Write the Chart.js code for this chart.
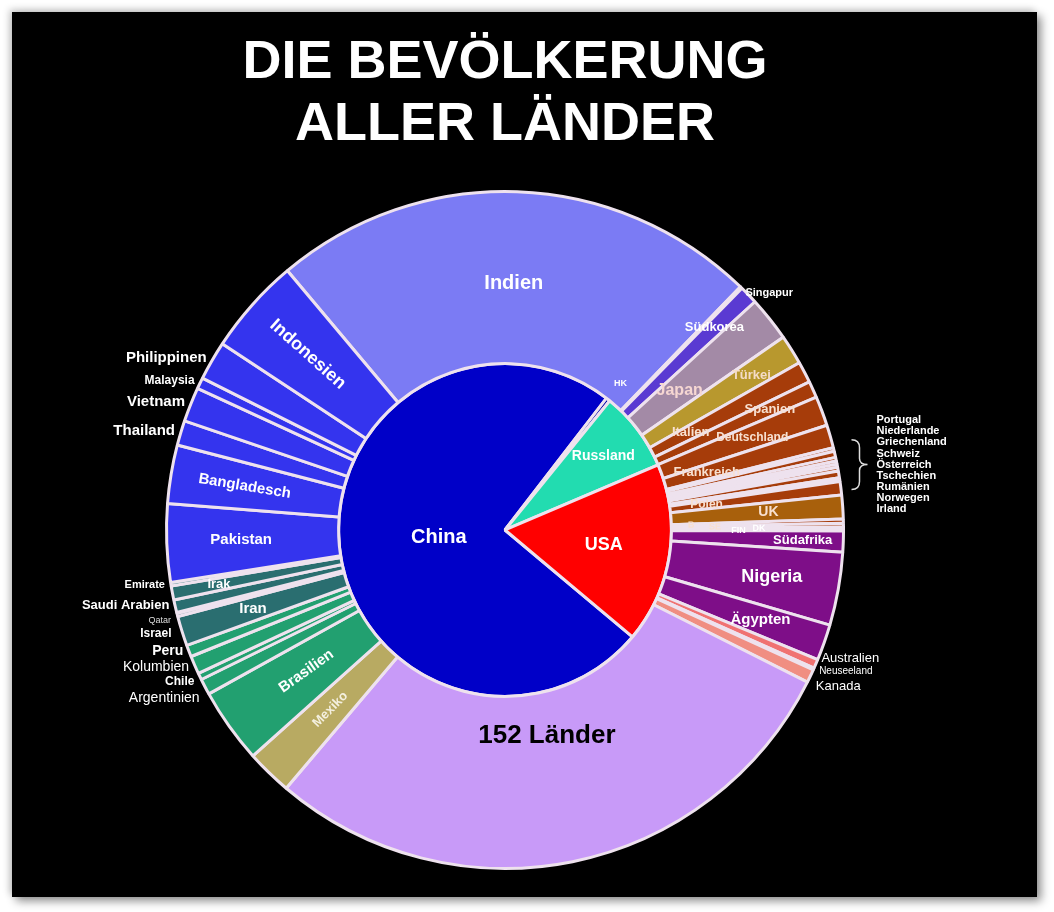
<!DOCTYPE html>
<html lang="de">
<head>
<meta charset="utf-8">
<title>Die Bevölkerung aller Länder</title>
<script src="https://cdn.jsdelivr.net/npm/chart.js@4.4.1/dist/chart.umd.min.js"></script>
<style>
    html, body { margin: 0; padding: 0; background: #fff; }
    #rahmen {
        position: absolute; left: 12px; top: 12px; width: 1025px; height: 885px; background: #000;
        box-shadow: 4px 4px 9px rgba(0,0,0,0.45), -3px -3px 7px rgba(0,0,0,0.18);
    }
    canvas { display: block; }
</style>
</head>
<body>
<div id="rahmen"><canvas id="bevoelkerungChart" width="1025" height="885"></canvas></div>
<script>
// Außenring: Länder am Kreisrand, im Uhrzeigersinn ab Indien (Einwohner in Mio.)
const aussenLaender = ['Indien', 'Singapur', 'Südkorea', 'Japan', 'Türkei', 'Italien', 'Spanien', 'Deutschland', 'Frankreich',
    'Portugal', 'Niederlande', 'Griechenland', 'Schweiz', 'Österreich', 'Tschechien', 'Rumänien', 'Norwegen', 'Irland',
    'Polen', 'UK', 'B', 'SE', 'DK', 'FIN', 'Südafrika', 'Nigeria', 'Ägypten', 'Australien', 'Neuseeland', 'Kanada',
    '152 Länder', 'Mexiko', 'Brasilien', 'Argentinien', 'Chile', 'Kolumbien', 'Peru', 'Iran', 'Israel', 'Qatar',
    'Saudi Arabien', 'Irak', 'Emirate', 'Pakistan', 'Bangladesch', 'Thailand', 'Vietnam', 'Malaysia', 'Philippinen', 'Indonesien'];
const aussenWerte = [1380, 5.9, 52, 126, 84, 60, 47, 83, 65,
    10.3, 17.4, 10.4, 8.7, 9, 10.7, 19, 5.4, 4.9,
    38, 67, 11.5, 10.3, 5.8, 5.5, 59, 206, 102, 25.5, 5, 38,
    1700, 129, 212, 45, 19, 51, 33, 84, 9.2, 2.9,
    35, 40, 9.9, 220, 165, 70, 97, 32, 110, 273];

// Innenkreis: China, HK, Russland, USA
const innenLaender = ['China', 'HK', 'Russland', 'USA'];
const innenWerte = [1400, 7.5, 146, 330];

// Kleine Länder, die nur über die Klammer beschriftet werden
const kleineLaender = ['Portugal', 'Niederlande', 'Griechenland', 'Schweiz', 'Österreich', 'Tschechien', 'Rumänien', 'Norwegen', 'Irland'];

const titelZeilen = ['DIE BEVÖLKERUNG', 'ALLER LÄNDER'];

// Farben nach Regionen
const regionen = {
    '#7b7bf4': ['Indien'],
    '#3434ee': ['Indonesien', 'Philippinen', 'Malaysia', 'Vietnam', 'Thailand', 'Bangladesch', 'Pakistan'],
    '#5a3ad2': ['Singapur', 'Südkorea'],
    '#a38aa6': ['Japan'],
    '#b8982e': ['Türkei'],
    '#a63c0a': ['Italien', 'Spanien', 'Deutschland', 'Frankreich', 'Portugal', 'Niederlande', 'Griechenland', 'Schweiz',
                'Österreich', 'Tschechien', 'Rumänien', 'Norwegen', 'Irland', 'Polen', 'B', 'SE', 'DK', 'FIN'],
    '#a8600c': ['UK'],
    '#7e0e88': ['Südafrika', 'Nigeria', 'Ägypten'],
    '#f07272': ['Australien'],
    '#f08e82': ['Neuseeland', 'Kanada'],
    '#c89af8': ['152 Länder'],
    '#b8aa62': ['Mexiko'],
    '#22a070': ['Brasilien', 'Argentinien', 'Chile', 'Kolumbien', 'Peru'],
    '#2a6e70': ['Iran', 'Israel', 'Qatar', 'Saudi Arabien', 'Irak'],
    '#3a8080': ['Emirate'],
    '#0000c8': ['China'],
    '#0000a8': ['HK'],
    '#22dcb0': ['Russland'],
    '#ff0000': ['USA']
};
function farbe(name) {
    for (const f in regionen) if (regionen[f].includes(name)) return f;
    return '#888';
}

// Beschriftung: r = Anteil am Außenradius, aussen = neben dem Kreis
const stil = {
    'Indien': { size: 20, r: 0.73 },
    'Singapur': { size: 11, aussen: true, dy: 10 },
    'Südkorea': { size: 13, r: 0.86 },
    'Japan': { size: 16, r: 0.66, color: '#f6d7d2' },
    'Türkei': { size: 13, r: 0.86, color: '#f4dcc8' },
    'Italien': { size: 13, r: 0.62, color: '#f8e0d0' },
    'Spanien': { size: 13, r: 0.86, color: '#f8e0d0' },
    'Deutschland': { size: 12, r: 0.78, color: '#f8e0d0' },
    'Frankreich': { size: 13, r: 0.62, color: '#f8e0d0' },
    'Polen': { size: 12, r: 0.6, color: '#f8e0d0' },
    'UK': { size: 14, r: 0.78, color: '#f8e0d0' },
    'B': { size: 9, r: 0.55, radial: true, color: '#f8e0d0' },
    'SE': { size: 9, r: 0.62, radial: true, color: '#f8e0d0' },
    'FIN': { size: 9, r: 0.69, radial: true },
    'DK': { size: 9, r: 0.75, radial: true },
    'Südafrika': { size: 13, r: 0.88 },
    'Nigeria': { size: 18, r: 0.8 },
    'Ägypten': { size: 15, r: 0.8 },
    'Australien': { size: 13, aussen: true, bold: false, dy: -8 },
    'Neuseeland': { size: 10, aussen: true, bold: false },
    'Kanada': { size: 13, aussen: true, bold: false, dy: 8 },
    '152 Länder': { size: 26, r: 0.62, color: '#000' },
    'Mexiko': { size: 13, r: 0.74, radial: true, color: '#f4f0e0' },
    'Brasilien': { size: 15, r: 0.72, radial: true },
    'Argentinien': { size: 14, aussen: true, bold: false, dy: 9 },
    'Chile': { size: 12, aussen: true, dy: 3 },
    'Kolumbien': { size: 14, aussen: true, bold: false },
    'Peru': { size: 14, aussen: true, dy: -2 },
    'Iran': { size: 15, r: 0.78 },
    'Israel': { size: 12, aussen: true, dy: 17 },
    'Qatar': { size: 9, aussen: true, bold: false, dy: 6, color: '#ddd' },
    'Saudi Arabien': { size: 13, aussen: true, dy: -2 },
    'Irak': { size: 13, r: 0.86 },
    'Emirate': { size: 11, aussen: true },
    'Pakistan': { size: 15, r: 0.78 },
    'Bangladesch': { size: 15, r: 0.78, radial: true },
    'Thailand': { size: 15, aussen: true },
    'Vietnam': { size: 15, aussen: true },
    'Malaysia': { size: 12, aussen: true },
    'Philippinen': { size: 15, aussen: true },
    'Indonesien': { size: 18, r: 0.78, radial: true },
    'China': { size: 20, r: 0.4 },
    'HK': { size: 9, r: 1.12 },
    'Russland': { size: 14, r: 0.74 },
    'USA': { size: 18, r: 0.6 }
};

const schrift = '"Liberation Sans", Arial, sans-serif';

const zellenText = {
    id: 'zellenText',
    afterDatasetsDraw(chart) {
        const ctx = chart.ctx;
        const namenListe = [aussenLaender, innenLaender];
        ctx.save();
        ctx.textBaseline = 'middle';
        chart.data.datasets.forEach((ds, di) => {
            chart.getDatasetMeta(di).data.forEach((arc, i) => {
                const name = namenListe[di][i];
                const s = stil[name];
                if (!s) return;
                const mitte = (arc.startAngle + arc.endAngle) / 2;
                const r = s.aussen ? arc.outerRadius + 6 : arc.outerRadius * s.r;
                const x = arc.x + Math.cos(mitte) * r;
                const y = arc.y + Math.sin(mitte) * r + (s.dy || 0);
                ctx.font = (s.bold === false ? '' : 'bold ') + s.size + 'px ' + schrift;
                ctx.fillStyle = s.color || '#fff';
                if (s.aussen) {
                    ctx.textAlign = Math.cos(mitte) < 0 ? 'right' : 'left';
                    ctx.fillText(name, x, y);
                    return;
                }
                ctx.textAlign = 'center';
                ctx.save();
                ctx.translate(x, y);
                if (s.radial) {
                    let rot = mitte;
                    if (Math.cos(rot) < 0) rot += Math.PI;
                    ctx.rotate(rot);
                }
                ctx.fillText(name, 0, 0);
                ctx.restore();
            });
        });

        // Klammer für die kleinen europäischen Länder
        const meta = chart.getDatasetMeta(0);
        const erst = meta.data[aussenLaender.indexOf(kleineLaender[0])];
        const letzt = meta.data[aussenLaender.indexOf(kleineLaender[kleineLaender.length - 1])];
        const R = erst.outerRadius;
        const yOben = erst.y + Math.sin(erst.startAngle) * R - 8;
        const yUnten = letzt.y + Math.sin(letzt.endAngle) * R + 8;
        const ym = (yOben + yUnten) / 2;
        const xk = erst.x + R + 8;
        ctx.strokeStyle = '#ddd';
        ctx.lineWidth = 1.5;
        ctx.beginPath();
        ctx.moveTo(xk, yOben);
        ctx.quadraticCurveTo(xk + 8, yOben, xk + 8, yOben + 8);
        ctx.lineTo(xk + 8, ym - 6);
        ctx.quadraticCurveTo(xk + 8, ym, xk + 16, ym);
        ctx.quadraticCurveTo(xk + 8, ym, xk + 8, ym + 6);
        ctx.lineTo(xk + 8, yUnten - 8);
        ctx.quadraticCurveTo(xk + 8, yUnten, xk, yUnten);
        ctx.stroke();

        ctx.font = 'bold 11px ' + schrift;
        ctx.fillStyle = '#fff';
        ctx.textAlign = 'left';
        const zh = 11.1;
        kleineLaender.forEach((n, k) => {
            ctx.fillText(n, xk + 25, ym + (k - (kleineLaender.length - 1) / 2) * zh);
        });
        ctx.restore();
    }
};

const ctx = document.getElementById('bevoelkerungChart').getContext('2d');
const bevoelkerungChart = new Chart(ctx, {
    type: 'pie',
    data: {
        datasets: [{
            data: aussenWerte,
            backgroundColor: aussenLaender.map(farbe),
            borderColor: '#eee2ee',
            borderWidth: 3,
            rotation: -40,
            weight: 0.5084
        }, {
            data: innenWerte,
            backgroundColor: innenLaender.map(farbe),
            borderColor: '#eee2ee',
            borderWidth: 3,
            rotation: 130,
            weight: 0.4916
        }]
    },
    options: {
        responsive: false,
        animation: false,
        layout: {
            padding: { left: 153, right: 192, top: 0, bottom: 27 }
        },
        plugins: {
            legend: { display: false },
            tooltip: { enabled: false },
            title: {
                display: true,
                text: titelZeilen,
                color: '#fff',
                font: { size: 54, weight: 'bold', family: schrift, lineHeight: 1.148 },
                padding: { top: 20, bottom: 34 }
            }
        }
    },
    plugins: [zellenText]
});
</script>
</body>
</html>
